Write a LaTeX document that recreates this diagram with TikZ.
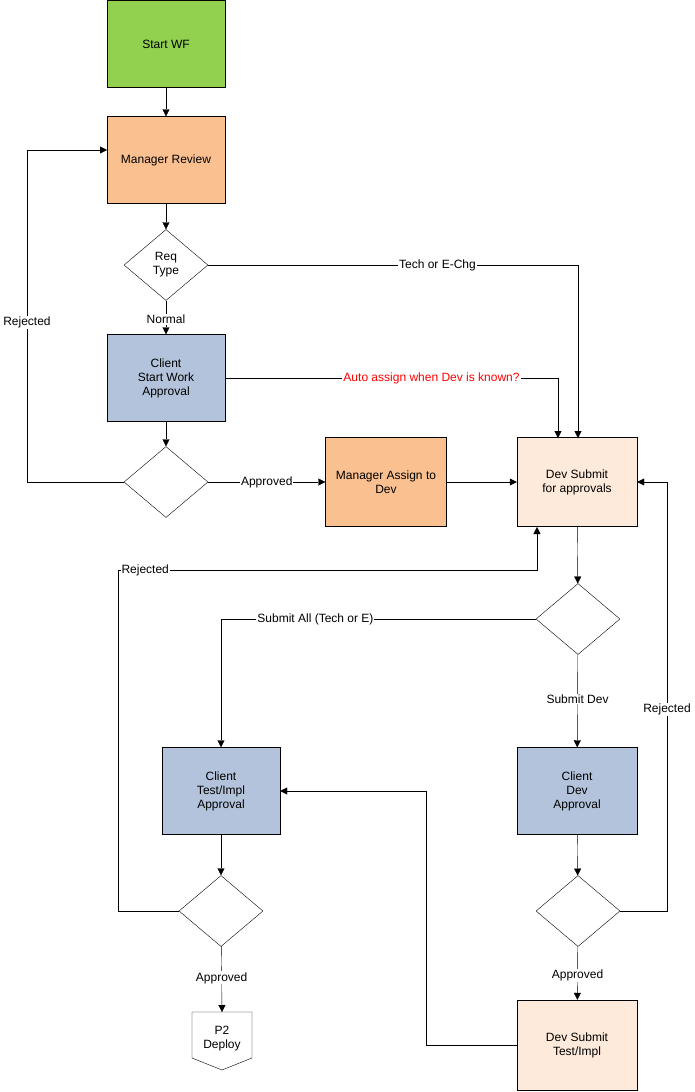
\documentclass[tikz,border=0pt]{standalone}
\usepackage{fontspec}
\setmainfont{Liberation Sans}
\usetikzlibrary{shapes.geometric,arrows.meta}
\definecolor{cgreen}{HTML}{92D050}
\definecolor{corange}{HTML}{FAC090}
\definecolor{cblue}{HTML}{B3C3DB}
\definecolor{cpeach}{HTML}{FDEADA}
\begin{document}
\begin{tikzpicture}[x=1pt,y=-1pt,
  font=\fontsize{12}{14}\selectfont,
  box/.style={draw=black,minimum width=118pt,minimum height=87pt,align=center,inner sep=2pt},
  dia/.style={draw=black,fill=white,diamond,minimum width=84pt,minimum height=71pt,inner sep=0pt,aspect=1.2,align=center},
  arr/.style={draw=black,-{Triangle[length=7pt,width=7pt]}},
  lab/.style={fill=white,inner sep=1pt}]
\useasboundingbox (0,0) rectangle (695,1092);
\node[box,fill=cgreen] (start) at (166,44) {Start WF};
\node[box,fill=corange] (mr) at (166,160) {Manager Review};
\node[dia] (req) at (166,265) {Req\\Type};
\node[box,fill=cblue] (csw) at (166,378) {Client\\Start Work\\Approval};
\node[dia] (d2) at (166,482) {};
\node[box,fill=corange,minimum width=121pt,minimum height=89pt] (mad) at (386,482) {Manager Assign to\\Dev};
\node[box,fill=cpeach,minimum width=120pt,minimum height=89pt] (dsa) at (577,482) {Dev Submit\\for approvals};
\node[dia] (d3) at (578,619) {};
\node[box,fill=cblue] (cti) at (221,791) {Client\\Test/Impl\\Approval};
\node[box,fill=cblue,minimum width=120pt] (cda) at (577,791) {Client\\Dev\\Approval};
\node[dia] (d4) at (221,911) {};
\node[dia] (d5) at (578,911) {};
\draw[fill=white] (192,1012) -- (252,1012) -- (252,1058) -- (222,1070) -- (192,1058) -- cycle;
\node[align=center] (p2) at (222,1039) {P2\\Deploy};
\coordinate (p2top) at (222,1012);
\node[box,fill=cpeach,minimum width=120pt,minimum height=90pt] (dst) at (577,1045) {Dev Submit\\Test/Impl};

\draw[arr] (start) -- (mr);
\draw[arr] (mr) -- (req);
\draw[arr] (req) -- node[lab,pos=0.55]{Normal} (csw);
\draw[arr] (req.east) -- node[lab,pos=0.62]{Tech or E-Chg} (578,265) -- (578,438);
\draw[arr] (csw.east |- 0,378) -- node[lab,pos=0.62,text=red]{Auto assign when Dev is known?} (558,378) -- (558,438);
\draw[arr] (csw) -- (d2);
\draw[arr] (d2.west) -- (27,482) -- node[lab,pos=0.48]{Rejected} (27,150) -- (107,150);
\draw[arr] (d2.east) -- node[lab]{Approved} (mad);
\draw[arr] (mad) -- (dsa);
\draw[arr] (dsa) -- (d3);
\draw[arr] (d3.west) -- node[lab,pos=0.7]{Submit All (Tech or E)} (221,619) -- (cti.north);
\draw[arr] (d3) -- node[lab,pos=0.48]{Submit Dev} (cda);
\draw[arr] (cti) -- (d4);
\draw[arr] (d4.west) -- (118,911) -- (118,570) -- node[lab,pos=0.065]{Rejected} (537,570) -- (537,527);
\draw[arr] (d4) -- node[lab,pos=0.48]{Approved} (p2top);
\draw[arr] (cda) -- (d5);
\draw[arr] (d5.east) -- (667,911) -- node[lab,pos=0.47]{Rejected} (667,482) -- (dsa.east);
\draw[arr] (d5) -- node[lab,pos=0.55]{Approved} (dst);
\draw[arr] (dst.west) -- (426,1045) -- (426,791) -- (cti.east);
\end{tikzpicture}
\end{document}
